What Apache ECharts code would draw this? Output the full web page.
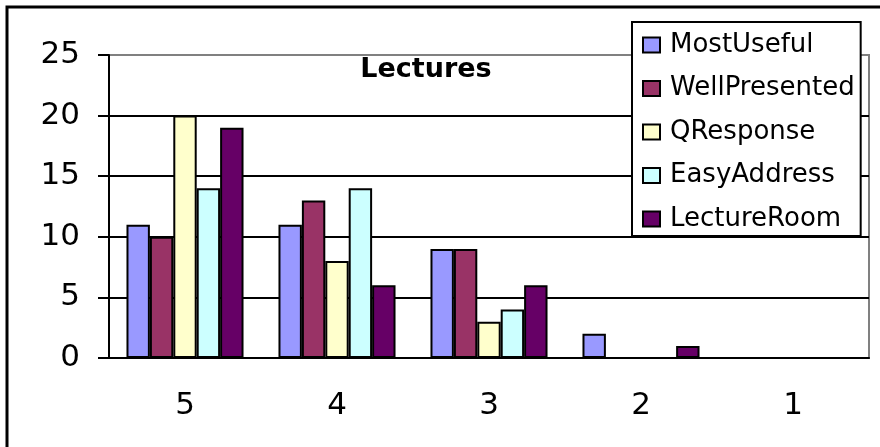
<!DOCTYPE html>
<html>
<head>
<meta charset="utf-8">
<script src="https://cdn.jsdelivr.net/npm/echarts@6/dist/echarts.min.js"></script>
<style>
  html, body { margin: 0; padding: 0; background: #fff; }
  #chart { width: 880px; height: 447px; }
</style>
</head>
<body>
<div id="chart"></div>
<script>
// Rating categories (best to worst) and response counts per question
const ratings = ['5', '4', '3', '2', '1'];
const mostUseful    = [11, 11, 9, 2, 0];
const wellPresented = [10, 13, 9, 0, 0];
const qResponse     = [20, 8, 3, 0, 0];
const easyAddress   = [14, 14, 4, 0, 0];
const lectureRoom   = [19, 6, 6, 1, 0];

const seriesNames  = ['MostUseful', 'WellPresented', 'QResponse', 'EasyAddress', 'LectureRoom'];
const seriesValues = [mostUseful, wellPresented, qResponse, easyAddress, lectureRoom];
const seriesColors = ['#9999FF', '#993366', '#FFFFCC', '#CCFFFF', '#660066'];

const FONT = 'DejaVu Sans';

const chart = echarts.init(document.getElementById('chart'));
chart.setOption({
  animation: false,
  backgroundColor: '#ffffff',
  title: {
    text: 'Lectures',
    left: 421,
    top: 51,
    textAlign: 'center',
    textStyle: { fontFamily: FONT, fontSize: 27, fontWeight: 'bold', color: '#000' }
  },
  grid: {
    left: 109, right: 11, top: 55, bottom: 89,
    show: true, borderColor: '#808080', borderWidth: 2
  },
  legend: {
    orient: 'vertical',
    left: 632, top: 22,
    padding: [10, 6, 4, 10],
    itemGap: 17.5,
    itemWidth: 17, itemHeight: 15,
    icon: 'rect',
    backgroundColor: '#ffffff',
    borderColor: '#000', borderWidth: 2,
    textStyle: { fontFamily: FONT, fontSize: 26, color: '#000', padding: [0, 0, 0, 5] },
    data: seriesNames
  },
  xAxis: {
    type: 'category',
    data: ratings,
    axisLine: { lineStyle: { color: '#000', width: 2 } },
    axisTick: { length: 10, lineStyle: { color: '#000', width: 2 } },
    axisLabel: { fontFamily: FONT, fontSize: 31, color: '#000', margin: 32 }
  },
  yAxis: {
    type: 'value',
    min: 0, max: 25, interval: 5,
    axisLine: { show: true, lineStyle: { color: '#000', width: 2 } },
    axisTick: { show: true, length: 11, lineStyle: { color: '#000', width: 2 } },
    axisLabel: { fontFamily: FONT, fontSize: 31, color: '#000', margin: 29 },
    splitLine: { lineStyle: { color: ['#000', '#000', '#000', '#000', '#000', '#808080'], width: 2 } }
  },
  series: seriesNames.map((name, i) => ({
    name,
    type: 'bar',
    data: seriesValues[i],
    barGap: '0%',
    barCategoryGap: '23%',
    itemStyle: { color: seriesColors[i], borderColor: '#000', borderWidth: 2 }
  })),
  graphic: [{
    type: 'rect',
    shape: { x: 7, y: 7, width: 900, height: 500 },
    style: { fill: null, stroke: '#000', lineWidth: 3 },
    silent: true,
    z: 100
  }]
});
</script>
</body>
</html>
